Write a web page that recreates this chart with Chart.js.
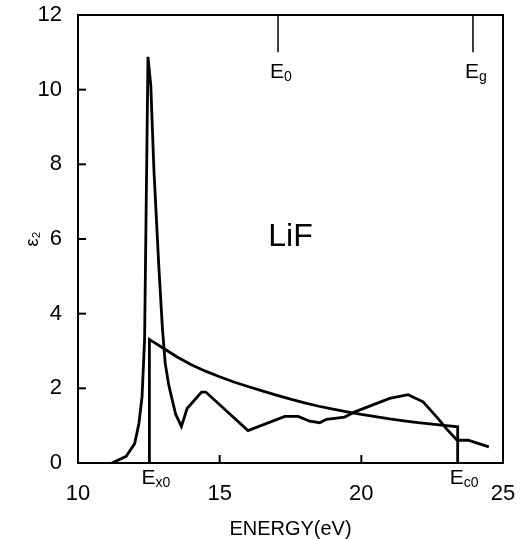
<!DOCTYPE html>
<html>
<head>
<meta charset="utf-8">
<script src="https://cdn.jsdelivr.net/npm/chart.js@4.4.1/dist/chart.umd.min.js"></script>
<style>
  html, body { margin: 0; padding: 0; background: #fff; }
  #wrap { width: 525px; height: 539px; }
</style>
</head>
<body>
<div id="wrap"><canvas id="grafico" width="525" height="539"></canvas></div>
<script>
// datos
const energiaExp = [11.2, 11.7, 12.0, 12.15, 12.26, 12.35, 12.47, 12.57, 12.68, 12.85, 12.98, 13.08, 13.2, 13.3, 13.45, 13.65, 13.85, 14.36, 14.51, 16.0, 17.3, 17.77, 18.18, 18.53, 18.77, 19.41, 19.77, 21.0, 21.65, 22.18, 22.71, 23.0, 23.38, 23.77, 24.5]
const eps2Exp = [0, 0.18, 0.52, 1.06, 1.77, 3.3, 10.88, 10.1, 7.84, 5.3, 3.6, 2.66, 2.1, 1.77, 1.3, 0.98, 1.46, 1.9, 1.9, 0.87, 1.25, 1.25, 1.12, 1.08, 1.17, 1.23, 1.37, 1.73, 1.83, 1.64, 1.19, 0.92, 0.61, 0.61, 0.43]

const energiaModelo = [12.52, 12.52, 13.0, 13.5, 14.0, 14.5, 15.0, 15.5, 16.0, 16.5, 17.0, 17.5, 18.0, 18.5, 19.0, 19.5, 20.0, 20.5, 21.0, 21.5, 22.0, 22.5, 23.0, 23.4, 23.4]
const eps2Modelo = [0, 3.31, 3.08, 2.84, 2.63, 2.46, 2.31, 2.17, 2.05, 1.93, 1.82, 1.71, 1.61, 1.52, 1.44, 1.37, 1.30, 1.24, 1.18, 1.13, 1.08, 1.04, 1.00, 0.97, 0]

// marcas de arriba (E0, Eg) y de abajo (Ex0, Ec0)
const marcasArriba = [17.06, 23.94]
const subArriba = ['0', 'g']
const marcasAbajo = [12.52, 23.4]
const subAbajo = ['x0', 'c0']

const ticksX = [10, 15, 20, 25]
const ticksY = [0, 2, 4, 6, 8, 10, 12]

const fuente = "'Liberation Sans', Arial, sans-serif"

const toPoints = (xs, ys) => xs.map((x, i) => ({ x: x, y: ys[i] }))

// lineas verticales cortas de E0 y Eg
const puntosMarcas = []
marcasArriba.forEach(e => {
    puntosMarcas.push({ x: e, y: 12 }, { x: e, y: 11 }, { x: e, y: null })
})

const dibujarEtiqueta = (ctx, x, y, sub) => {
    ctx.font = `21px ${fuente}`
    ctx.textBaseline = 'middle'
    ctx.textAlign = 'left'
    ctx.fillText('E', x, y)
    const w = ctx.measureText('E').width
    ctx.font = `14px ${fuente}`
    ctx.fillText(sub, x + w, y + 5)
}

// sin relleno extra de las escalas, para fijar el area del grafico
const sinPadding = (scale) => {
    scale.paddingLeft = 0
    scale.paddingRight = 0
    scale.paddingTop = 0
    scale.paddingBottom = 0
}

const extras = {
    id: 'extras',
    afterDatasetsDraw(chart) {
        const { ctx, chartArea, scales } = chart
        ctx.save()
        ctx.strokeStyle = '#000'
        ctx.fillStyle = '#000'
        ctx.lineWidth = 2
        // ticks hacia adentro
        ticksY.slice(1, -1).forEach(v => {
            const y = scales.y.getPixelForValue(v)
            ctx.beginPath()
            ctx.moveTo(chartArea.left, y)
            ctx.lineTo(chartArea.left + 8, y)
            ctx.stroke()
        })
        ticksX.slice(1, -1).forEach(v => {
            const x = scales.x.getPixelForValue(v)
            ctx.beginPath()
            ctx.moveTo(x, chartArea.bottom)
            ctx.lineTo(x, chartArea.bottom - 8)
            ctx.stroke()
        })
        // marco
        ctx.strokeRect(chartArea.left, chartArea.top, chartArea.right - chartArea.left, chartArea.bottom - chartArea.top)

        marcasArriba.forEach((e, i) => {
            dibujarEtiqueta(ctx, scales.x.getPixelForValue(e) - 8, 72, subArriba[i])
        })
        marcasAbajo.forEach((e, i) => {
            dibujarEtiqueta(ctx, scales.x.getPixelForValue(e) - 8, 478, subAbajo[i])
        })

        ctx.font = `32px ${fuente}`
        ctx.textAlign = 'center'
        ctx.textBaseline = 'middle'
        ctx.fillText('LiF', scales.x.getPixelForValue(17.5), scales.y.getPixelForValue(6.05))
        ctx.restore()
    }
}

const ctx = document.getElementById('grafico')

const config = {
    type: 'line',
    data: {
        datasets: [
            {
                label: 'experimental',
                data: toPoints(energiaExp, eps2Exp),
                borderColor: '#000',
                borderWidth: 2.8,
                pointRadius: 0,
                tension: 0
            },
            {
                label: 'modelo',
                data: toPoints(energiaModelo, eps2Modelo),
                borderColor: '#000',
                borderWidth: 2.8,
                pointRadius: 0,
                tension: 0
            },
            {
                label: 'marcas',
                data: puntosMarcas,
                borderColor: '#000',
                borderWidth: 1.5,
                pointRadius: 0,
                spanGaps: false
            }
        ]
    },
    options: {
        responsive: false,
        animation: false,
        layout: { autoPadding: false, padding: { top: 15, right: 22, left: 0, bottom: 0 } },
        plugins: {
            legend: { display: false },
            tooltip: { enabled: false }
        },
        scales: {
            x: {
                type: 'linear',
                min: 10,
                max: 25,
                grid: { display: false, drawTicks: false },
                border: { display: false },
                ticks: {
                    stepSize: 5,
                    color: '#000',
                    padding: 18,
                    font: { family: fuente, size: 22 }
                },
                title: {
                    display: true,
                    text: 'ENERGY(eV)',
                    color: '#000',
                    padding: 0,
                    font: { family: fuente, size: 20, lineHeight: 1 }
                },
                afterFit: (scale) => {
                    scale.height = 76
                    sinPadding(scale)
                }
            },
            y: {
                type: 'linear',
                min: 0,
                max: 12,
                grid: { display: false, drawTicks: false },
                border: { display: false },
                ticks: {
                    stepSize: 2,
                    color: '#000',
                    padding: 16,
                    font: { family: fuente, size: 22 }
                },
                title: {
                    display: true,
                    text: 'ε₂',
                    color: '#000',
                    padding: { top: 24, bottom: 0 },
                    font: { family: fuente, size: 18, lineHeight: 1 }
                },
                afterFit: (scale) => {
                    scale.width = 78
                    sinPadding(scale)
                }
            }
        }
    },
    plugins: [extras]
}

const myChart = new Chart(ctx, config)
</script>
</body>
</html>
